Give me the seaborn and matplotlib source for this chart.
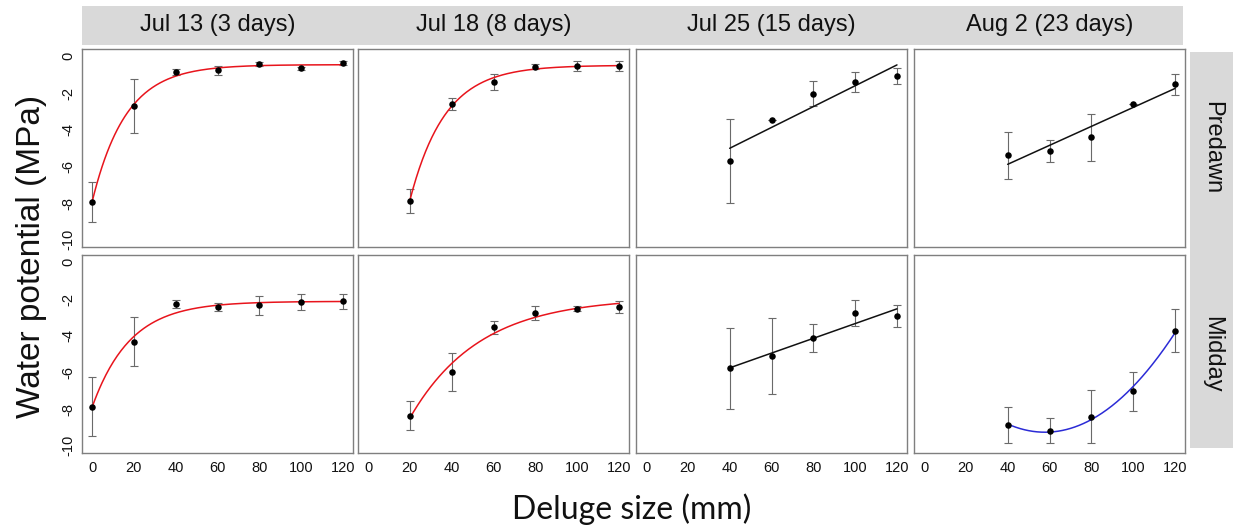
import numpy as np
import pandas as pd
import matplotlib
matplotlib.use("Agg")
import matplotlib.pyplot as plt
import seaborn as sns
from matplotlib.patches import Rectangle

sns.set_style("white")
plt.rcParams['font.family'] = ['Liberation Sans', 'DejaVu Sans']

# ---------------- data ----------------
dates = ["Jul 13 (3 days)", "Jul 18 (8 days)", "Jul 25 (15 days)", "Aug 2 (23 days)"]
times = ["Predawn", "Midday"]
x_ticks = [0, 20, 40, 60, 80, 100, 120]
y_ticks = [0, -2, -4, -6, -8, -10]

# Predawn
jul13_pd_x = [0, 20, 40, 60, 80, 100, 120]
jul13_pd_y = [-7.94, -2.71, -0.86, -0.77, -0.40, -0.66, -0.38]
jul13_pd_e = [1.08, 1.45, 0.15, 0.25, 0.10, 0.10, 0.10]

jul18_pd_x = [20, 40, 60, 80, 100, 120]
jul18_pd_y = [-7.87, -2.60, -1.42, -0.56, -0.51, -0.53]
jul18_pd_e = [0.65, 0.35, 0.43, 0.15, 0.28, 0.29]

jul25_pd_x = [40, 60, 80, 100, 120]
jul25_pd_y = [-5.71, -3.49, -2.04, -1.40, -1.07]
jul25_pd_e = [2.30, 0.0, 0.69, 0.55, 0.45]

aug2_pd_x = [40, 60, 80, 100, 120]
aug2_pd_y = [-5.40, -5.18, -4.42, -2.58, -1.53]
aug2_pd_e = [1.27, 0.60, 1.29, 0.0, 0.58]

# Midday
jul13_md_x = [0, 20, 40, 60, 80, 100, 120]
jul13_md_y = [-7.87, -4.33, -2.26, -2.45, -2.33, -2.18, -2.13]
jul13_md_e = [1.60, 1.33, 0.22, 0.22, 0.52, 0.44, 0.39]

jul18_md_x = [20, 40, 60, 80, 100, 120]
jul18_md_y = [-8.36, -5.99, -3.54, -2.78, -2.53, -2.44]
jul18_md_e = [0.78, 1.03, 0.35, 0.38, 0.15, 0.35]

jul25_md_x = [40, 60, 80, 100, 120]
jul25_md_y = [-5.79, -5.11, -4.13, -2.76, -2.94]
jul25_md_e = [2.20, 2.08, 0.75, 0.73, 0.59]

aug2_md_x = [40, 60, 80, 100, 120]
aug2_md_y = [-8.88, -9.19, -8.43, -7.04, -3.74]
aug2_md_e = [1.00, 0.68, 1.45, 1.07, 1.17]

# fit model per panel: exponential (red), linear (black), quadratic (blue)
panels = [
    [(jul13_pd_x, jul13_pd_y, jul13_pd_e, "exp"), (jul18_pd_x, jul18_pd_y, jul18_pd_e, "exp"),
     (jul25_pd_x, jul25_pd_y, jul25_pd_e, "lin"), (aug2_pd_x, aug2_pd_y, aug2_pd_e, "lin")],
    [(jul13_md_x, jul13_md_y, jul13_md_e, "exp"), (jul18_md_x, jul18_md_y, jul18_md_e, "exp"),
     (jul25_md_x, jul25_md_y, jul25_md_e, "lin"), (aug2_md_x, aug2_md_y, aug2_md_e, "quad")],
]
fit_colors = {"exp": "#e8141c", "lin": "#111111", "quad": "#2b2bd6"}


def fit_curve(x, y, kind):
    x = np.asarray(x, float)
    y = np.asarray(y, float)
    xs = np.linspace(x.min(), x.max(), 200)
    if kind == "lin":
        p = np.polyfit(x, y, 1)
        return xs, np.polyval(p, xs)
    if kind == "quad":
        p = np.polyfit(x, y, 2)
        return xs, np.polyval(p, xs)
    best = None
    for k in np.linspace(0.005, 0.3, 600):
        A = np.column_stack([np.ones_like(x), np.exp(-k * x)])
        coef, *_ = np.linalg.lstsq(A, y, rcond=None)
        r = np.sum((A @ coef - y) ** 2)
        if best is None or r < best[0]:
            best = (r, k, coef)
    _, k, coef = best
    return xs, coef[0] + coef[1] * np.exp(-k * xs)


# ---------------- layout ----------------
W, H = 1233, 531
fig = plt.figure(figsize=(W / 100, H / 100), dpi=100)

col_left = [82, 358, 636, 914]
col_w = 271
row_top = [49, 255]
row_h = 198


def fr(x0, y0, w, h):
    return [x0 / W, 1 - (y0 + h) / H, w / W, h / H]


# top strip (continuous band)
fig.patches.append(Rectangle((82 / W, 1 - 45 / H), (1183 - 82) / W, 39 / H,
                             transform=fig.transFigure, facecolor="#d9d9d9",
                             edgecolor="none", zorder=0))
# right strip
fig.patches.append(Rectangle((1190 / W, 1 - 448 / H), (1233 - 1190) / W, (448 - 52) / H,
                             transform=fig.transFigure, facecolor="#d9d9d9",
                             edgecolor="none", zorder=0))

for j, d in enumerate(dates):
    fig.text((col_left[j] + col_w / 2) / W, 1 - 25.5 / H, d, ha="center", va="center",
             fontsize=17, color="#111111")
for i, t in enumerate(times):
    fig.text(1212 / W, 1 - (row_top[i] + row_h / 2) / H, t, ha="center", va="center",
             rotation=-90, fontsize=17, color="#111111")

for i in range(2):
    for j in range(4):
        x, y, e, kind = panels[i][j]
        ax = fig.add_axes(fr(col_left[j], row_top[i], col_w, row_h))
        df = pd.DataFrame({"x": x, "y": y, "e": e})
        lo = np.maximum(df["y"] - df["e"], -9.9)
        hi = df["y"] + df["e"]
        ax.errorbar(df["x"], df["y"], yerr=[df["y"] - lo, hi - df["y"]], fmt="none",
                    ecolor="#6a6a6a", elinewidth=0.8, capsize=3, capthick=0.8, zorder=2)
        xs, ys = fit_curve(x, y, kind)
        sns.lineplot(x=xs, y=ys, ax=ax, color=fit_colors[kind], lw=1.1, zorder=3,
                     estimator=None, sort=False)
        sns.scatterplot(data=df, x="x", y="y", ax=ax, color="black", s=22,
                        edgecolor="black", linewidth=0, zorder=4)
        ax.set_xlim(-4.8, 124.8)
        ax.set_ylim(-10.4, 0.4)
        ax.set_xticks(x_ticks)
        ax.set_yticks(y_ticks)
        ax.tick_params(direction="in", length=4, width=0.7, colors="#444444",
                       labelsize=10.5, labelcolor="#111111")
        if i == 1:
            ax.set_xticklabels([str(v) for v in x_ticks])
            ax.tick_params(axis="x", pad=6)
        else:
            ax.set_xticklabels([])
        if j == 0:
            ax.set_yticklabels([str(v) for v in y_ticks], rotation=90, va="center")
            ax.tick_params(axis="y", pad=5)
        else:
            ax.set_yticklabels([])
        ax.set_xlabel("")
        ax.set_ylabel("")
        for s in ax.spines.values():
            s.set_color("#7f7f7f")
            s.set_linewidth(1.0)

fig.text(32 / W, 1 - 256 / H, "Water potential (MPa)", rotation=90, ha="center",
         va="center", fontsize=24, color="#111111")
fig.text(632 / W, 1 - 509 / H, "Deluge size (mm)", ha="center", va="center",
         fontsize=23, color="#111111", family=["Lato", "DejaVu Sans"])

fig.savefig("out.png", dpi=100, facecolor="white")
